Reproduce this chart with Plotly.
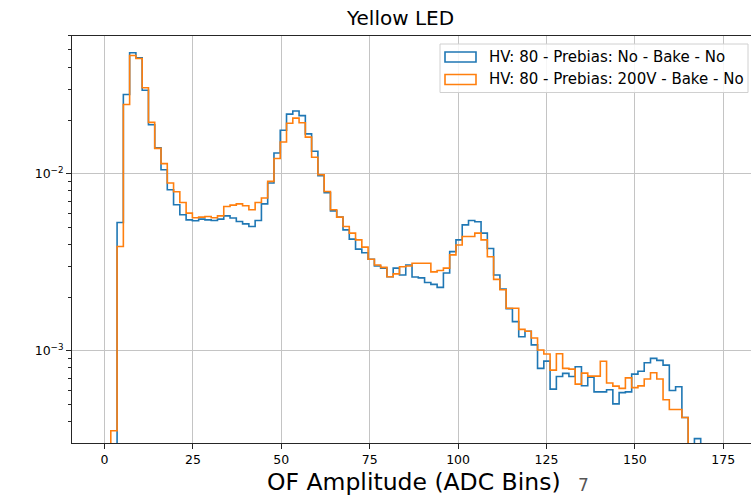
import numpy as np
import plotly.graph_objects as go

# ---------------- data (histogram densities per bin) ----------------
bin_start, bin_stop, n_bins = 0.0, 177.5, 100
EMPTY = 1e-6  # bins with no entries (below the visible log range)

blue_label = "HV: 80 - Prebias: No - Bake - No"
orange_label = "HV: 80 - Prebias: 200V - Bake - No"

blue_vals = [
    EMPTY, EMPTY, 5.30e-3, 0.0280, 0.0482, 0.0452, 0.0296, 0.0189, 0.0140, 0.01053,
    8.12e-3, 6.68e-3, 5.86e-3, 5.49e-3, 5.42e-3, 5.54e-3, 5.49e-3, 5.44e-3, 5.54e-3, 5.78e-3,
    5.62e-3, 5.37e-3, 5.21e-3, 5.03e-3, 5.44e-3, 6.76e-3, 8.86e-3, 0.0131, 0.0176, 0.0217,
    0.0226, 0.0213, 0.0168, 0.0134, 9.74e-3, 7.81e-3, 6.17e-3, 5.69e-3, 4.82e-3, 4.27e-3,
    3.75e-3, 3.58e-3, 3.29e-3, 3.01e-3, 2.93e-3, 2.62e-3, 2.93e-3, 2.68e-3, 3.05e-3, 2.61e-3,
    2.58e-3, 2.43e-3, 2.37e-3, 2.28e-3, 2.75e-3, 3.63e-3, 4.23e-3, 5.14e-3, 5.44e-3, 5.35e-3,
    4.62e-3, 3.78e-3, 2.68e-3, 2.23e-3, 1.73e-3, 1.46e-3, 1.20e-3, 1.29e-3, 1.08e-3, 7.95e-4,
    8.74e-4, 6.07e-4, 7.16e-4, 7.45e-4, 7.16e-4, 8.12e-4, 6.35e-4, 7.10e-4, 5.86e-4, 5.86e-4,
    6.02e-4, 5.01e-4, 5.80e-4, 5.86e-4, 7.38e-4, 7.66e-4, 8.55e-4, 9.06e-4, 8.82e-4, 8.30e-4,
    5.97e-4, 6.26e-4, 4.20e-4, EMPTY, 3.19e-4, EMPTY, EMPTY, EMPTY, EMPTY, EMPTY,
]

orange_vals = [
    EMPTY, 3.53e-4, 3.88e-3, 0.0246, 0.0465, 0.0448, 0.0306, 0.0195, 0.0139, 0.0114,
    8.86e-3, 7.91e-3, 6.88e-3, 5.99e-3, 5.64e-3, 5.69e-3, 5.73e-3, 5.64e-3, 5.78e-3, 6.53e-3,
    6.65e-3, 6.76e-3, 6.59e-3, 6.26e-3, 6.88e-3, 7.29e-3, 9.05e-3, 0.0122, 0.0151, 0.0193,
    0.0206, 0.0194, 0.0161, 0.0124, 9.87e-3, 7.94e-3, 6.26e-3, 5.69e-3, 5.03e-3, 4.62e-3,
    4.23e-3, 3.85e-3, 3.29e-3, 3.05e-3, 2.96e-3, 2.62e-3, 2.72e-3, 2.98e-3, 3.01e-3, 3.12e-3,
    3.12e-3, 3.12e-3, 2.79e-3, 2.84e-3, 2.93e-3, 3.48e-3, 3.96e-3, 4.42e-3, 4.42e-3, 4.62e-3,
    4.23e-3, 3.40e-3, 2.53e-3, 2.21e-3, 1.74e-3, 1.74e-3, 1.32e-3, 1.29e-3, 1.18e-3, 1.01e-3,
    9.58e-4, 7.77e-4, 9.62e-4, 7.95e-4, 7.88e-4, 6.48e-4, 7.48e-4, 7.19e-4, 7.19e-4, 8.72e-4,
    6.57e-4, 6.31e-4, 6.13e-4, 7.03e-4, 6.19e-4, 6.33e-4, 6.93e-4, 7.51e-4, 6.92e-4, 5.29e-4,
    4.66e-4, 4.66e-4, 4.20e-4, EMPTY, EMPTY, EMPTY, EMPTY, EMPTY, EMPTY, EMPTY,
]

x_ticks = [0, 25, 50, 75, 100, 125, 150, 175]
y_ticks = [1e-3, 1e-2]
y_ticktext = ["10<sup>\u22123</sup>", "10<sup>\u22122</sup>"]

title_text = "Yellow LED"
xlabel_text = "OF Amplitude (ADC Bins)"

# ---------------- figure ----------------
W, H = 751, 496
ML, MR, MT, MB = 72, 0, 36, 53
PW, PH = W - ML - MR, H - MT - MB

edges = np.linspace(bin_start, bin_stop, n_bins + 1)

BLUE = "#1f77b4"
ORANGE = "#ff7f0e"
FONT = "DejaVu Sans"

fig = go.Figure()
for vals, col, name in [(blue_vals, BLUE, blue_label), (orange_vals, ORANGE, orange_label)]:
    fig.add_trace(go.Scatter(
        x=edges, y=list(vals) + [vals[-1]],
        mode="lines", line=dict(color=col, width=1.6, shape="hv"),
        name=name, showlegend=False, hoverinfo="skip",
    ))

minor_vals = []
for dec in [1e-4, 1e-3, 1e-2]:
    for m in range(2, 10):
        minor_vals.append(m * dec)

fig.update_layout(
    width=W, height=H,
    margin=dict(l=ML, r=MR, t=MT, b=MB, pad=0),
    paper_bgcolor="white", plot_bgcolor="white",
    font=dict(family=FONT, size=12, color="#000000"),
    xaxis=dict(
        range=[-9.2, 182.85], tickvals=x_ticks, ticktext=[str(v) for v in x_ticks],
        showgrid=True, gridcolor="#c4c4c4", gridwidth=1,
        showline=True, linecolor="#262626", linewidth=1, mirror=True,
        ticks="outside", ticklen=5, tickcolor="#262626", zeroline=False,
        tickfont=dict(family=FONT, size=12.5, color="#000000"),
    ),
    yaxis=dict(
        type="log", range=[-3.521, -1.222],
        tickvals=y_ticks, ticktext=y_ticktext,
        showgrid=True, gridcolor="#c4c4c4", gridwidth=1,
        showline=True, linecolor="#262626", linewidth=1, mirror=False,
        ticks="outside", ticklen=5, tickcolor="#262626", zeroline=False,
        tickfont=dict(family=FONT, size=12.5, color="#000000"),
        minor=dict(tickmode="array", tickvals=minor_vals, ticks="outside",
                   ticklen=3, tickcolor="#262626", showgrid=False),
    ),
)

def px_x(px):
    return (px - ML) / PW

def px_y(py):
    return 1 - (py - MT) / PH

# title, axis label and the stray glyph
fig.add_annotation(text=title_text, xref="paper", yref="paper", x=px_x(400), y=px_y(18),
                   showarrow=False, xanchor="center", yanchor="middle",
                   font=dict(family=FONT, size=20, color="#000000"))
fig.add_annotation(text=xlabel_text, xref="paper", yref="paper", x=px_x(413.5), y=px_y(482),
                   showarrow=False, xanchor="center", yanchor="middle",
                   font=dict(family=FONT, size=23.5, color="#000000"))
fig.add_annotation(text="7", xref="paper", yref="paper", x=px_x(583), y=px_y(485),
                   showarrow=False, xanchor="center", yanchor="middle",
                   font=dict(family=FONT, size=17, color="#555555"))

# legend box (matplotlib style: outlined patches)
fig.add_shape(type="rect", xref="paper", yref="paper",
              x0=px_x(440), x1=px_x(748), y0=px_y(92.5), y1=px_y(44),
              line=dict(color="#d0d0d0", width=1), fillcolor="rgba(255,255,255,0.85)", layer="above")
for i, (col, name) in enumerate([(BLUE, blue_label), (ORANGE, orange_label)]):
    cy = 57 + i * 22.5
    fig.add_shape(type="rect", xref="paper", yref="paper",
                  x0=px_x(445), x1=px_x(476), y0=px_y(cy + 5), y1=px_y(cy - 5),
                  line=dict(color=col, width=1.6), fillcolor="rgba(0,0,0,0)", layer="above")
    fig.add_annotation(text=name, xref="paper", yref="paper", x=px_x(487), y=px_y(cy),
                       showarrow=False, xanchor="left", yanchor="middle",
                       font=dict(family=FONT, size=15, color="#000000"))

fig.write_html("out.html",
               config={"displayModeBar": False},
               post_script="document.body.style.margin='0px';document.body.style.overflow='hidden';")
